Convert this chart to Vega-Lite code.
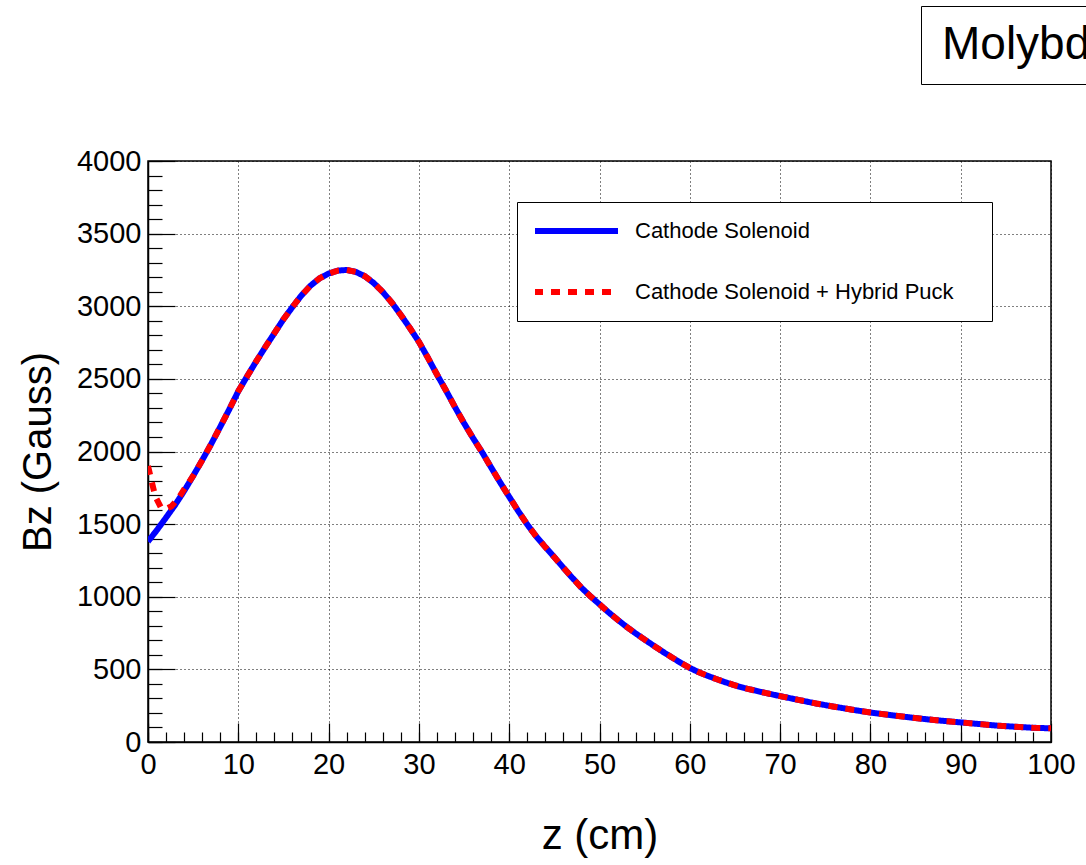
{
  "$schema": "https://vega.github.io/schema/vega-lite/v6.json",
  "width": 903,
  "height": 581,
  "autosize": {"type": "none"},
  "padding": {"left": 148, "top": 161, "right": 35, "bottom": 123},
  "background": "white",
  "config": {
    "view": {"stroke": "black", "strokeWidth": 1.5},
    "font": "Liberation Sans"
  },
  "datasets": {
    "curves": [
      {"z": 0, "B": 1380, "series": "Cathode Solenoid"},
      {"z": 1, "B": 1460, "series": "Cathode Solenoid"},
      {"z": 2, "B": 1545, "series": "Cathode Solenoid"},
      {"z": 3, "B": 1632, "series": "Cathode Solenoid"},
      {"z": 4, "B": 1728, "series": "Cathode Solenoid"},
      {"z": 5, "B": 1832, "series": "Cathode Solenoid"},
      {"z": 6, "B": 1940, "series": "Cathode Solenoid"},
      {"z": 7, "B": 2052, "series": "Cathode Solenoid"},
      {"z": 8, "B": 2170, "series": "Cathode Solenoid"},
      {"z": 9, "B": 2290, "series": "Cathode Solenoid"},
      {"z": 10, "B": 2415, "series": "Cathode Solenoid"},
      {"z": 11, "B": 2520, "series": "Cathode Solenoid"},
      {"z": 12, "B": 2622, "series": "Cathode Solenoid"},
      {"z": 13, "B": 2720, "series": "Cathode Solenoid"},
      {"z": 14, "B": 2815, "series": "Cathode Solenoid"},
      {"z": 15, "B": 2910, "series": "Cathode Solenoid"},
      {"z": 16, "B": 2995, "series": "Cathode Solenoid"},
      {"z": 17, "B": 3075, "series": "Cathode Solenoid"},
      {"z": 18, "B": 3142, "series": "Cathode Solenoid"},
      {"z": 19, "B": 3192, "series": "Cathode Solenoid"},
      {"z": 20, "B": 3225, "series": "Cathode Solenoid"},
      {"z": 21, "B": 3245, "series": "Cathode Solenoid"},
      {"z": 22, "B": 3250, "series": "Cathode Solenoid"},
      {"z": 23, "B": 3237, "series": "Cathode Solenoid"},
      {"z": 24, "B": 3207, "series": "Cathode Solenoid"},
      {"z": 25, "B": 3160, "series": "Cathode Solenoid"},
      {"z": 26, "B": 3098, "series": "Cathode Solenoid"},
      {"z": 27, "B": 3025, "series": "Cathode Solenoid"},
      {"z": 28, "B": 2940, "series": "Cathode Solenoid"},
      {"z": 29, "B": 2850, "series": "Cathode Solenoid"},
      {"z": 30, "B": 2755, "series": "Cathode Solenoid"},
      {"z": 31, "B": 2645, "series": "Cathode Solenoid"},
      {"z": 32, "B": 2530, "series": "Cathode Solenoid"},
      {"z": 33, "B": 2420, "series": "Cathode Solenoid"},
      {"z": 34, "B": 2305, "series": "Cathode Solenoid"},
      {"z": 35, "B": 2195, "series": "Cathode Solenoid"},
      {"z": 36, "B": 2092, "series": "Cathode Solenoid"},
      {"z": 37, "B": 1995, "series": "Cathode Solenoid"},
      {"z": 38, "B": 1890, "series": "Cathode Solenoid"},
      {"z": 39, "B": 1787, "series": "Cathode Solenoid"},
      {"z": 40, "B": 1688, "series": "Cathode Solenoid"},
      {"z": 41, "B": 1590, "series": "Cathode Solenoid"},
      {"z": 42, "B": 1497, "series": "Cathode Solenoid"},
      {"z": 43, "B": 1415, "series": "Cathode Solenoid"},
      {"z": 44, "B": 1342, "series": "Cathode Solenoid"},
      {"z": 45, "B": 1272, "series": "Cathode Solenoid"},
      {"z": 46, "B": 1200, "series": "Cathode Solenoid"},
      {"z": 47, "B": 1130, "series": "Cathode Solenoid"},
      {"z": 48, "B": 1062, "series": "Cathode Solenoid"},
      {"z": 49, "B": 1003, "series": "Cathode Solenoid"},
      {"z": 50, "B": 948, "series": "Cathode Solenoid"},
      {"z": 51, "B": 893, "series": "Cathode Solenoid"},
      {"z": 52, "B": 842, "series": "Cathode Solenoid"},
      {"z": 53, "B": 793, "series": "Cathode Solenoid"},
      {"z": 54, "B": 748, "series": "Cathode Solenoid"},
      {"z": 55, "B": 705, "series": "Cathode Solenoid"},
      {"z": 56, "B": 663, "series": "Cathode Solenoid"},
      {"z": 57, "B": 622, "series": "Cathode Solenoid"},
      {"z": 58, "B": 583, "series": "Cathode Solenoid"},
      {"z": 59, "B": 545, "series": "Cathode Solenoid"},
      {"z": 60, "B": 510, "series": "Cathode Solenoid"},
      {"z": 61, "B": 480, "series": "Cathode Solenoid"},
      {"z": 62, "B": 455, "series": "Cathode Solenoid"},
      {"z": 63, "B": 432, "series": "Cathode Solenoid"},
      {"z": 64, "B": 410, "series": "Cathode Solenoid"},
      {"z": 65, "B": 390, "series": "Cathode Solenoid"},
      {"z": 66, "B": 372, "series": "Cathode Solenoid"},
      {"z": 68, "B": 343, "series": "Cathode Solenoid"},
      {"z": 70, "B": 316, "series": "Cathode Solenoid"},
      {"z": 72, "B": 290, "series": "Cathode Solenoid"},
      {"z": 74, "B": 265, "series": "Cathode Solenoid"},
      {"z": 76, "B": 243, "series": "Cathode Solenoid"},
      {"z": 78, "B": 222, "series": "Cathode Solenoid"},
      {"z": 80, "B": 203, "series": "Cathode Solenoid"},
      {"z": 82, "B": 187, "series": "Cathode Solenoid"},
      {"z": 84, "B": 172, "series": "Cathode Solenoid"},
      {"z": 86, "B": 158, "series": "Cathode Solenoid"},
      {"z": 88, "B": 146, "series": "Cathode Solenoid"},
      {"z": 90, "B": 135, "series": "Cathode Solenoid"},
      {"z": 92, "B": 124, "series": "Cathode Solenoid"},
      {"z": 94, "B": 113, "series": "Cathode Solenoid"},
      {"z": 96, "B": 105, "series": "Cathode Solenoid"},
      {"z": 98, "B": 98, "series": "Cathode Solenoid"},
      {"z": 100, "B": 94, "series": "Cathode Solenoid"},
      {"z": 0, "B": 1900, "series": "Cathode Solenoid + Hybrid Puck"},
      {"z": 0.4, "B": 1795, "series": "Cathode Solenoid + Hybrid Puck"},
      {"z": 0.8, "B": 1692, "series": "Cathode Solenoid + Hybrid Puck"},
      {"z": 1.4, "B": 1618, "series": "Cathode Solenoid + Hybrid Puck"},
      {"z": 2, "B": 1605, "series": "Cathode Solenoid + Hybrid Puck"},
      {"z": 2.6, "B": 1623, "series": "Cathode Solenoid + Hybrid Puck"},
      {"z": 3.4, "B": 1680, "series": "Cathode Solenoid + Hybrid Puck"},
      {"z": 4, "B": 1740, "series": "Cathode Solenoid + Hybrid Puck"},
      {"z": 5, "B": 1832, "series": "Cathode Solenoid + Hybrid Puck"},
      {"z": 6, "B": 1940, "series": "Cathode Solenoid + Hybrid Puck"},
      {"z": 7, "B": 2052, "series": "Cathode Solenoid + Hybrid Puck"},
      {"z": 8, "B": 2170, "series": "Cathode Solenoid + Hybrid Puck"},
      {"z": 9, "B": 2290, "series": "Cathode Solenoid + Hybrid Puck"},
      {"z": 10, "B": 2415, "series": "Cathode Solenoid + Hybrid Puck"},
      {"z": 11, "B": 2520, "series": "Cathode Solenoid + Hybrid Puck"},
      {"z": 12, "B": 2622, "series": "Cathode Solenoid + Hybrid Puck"},
      {"z": 13, "B": 2720, "series": "Cathode Solenoid + Hybrid Puck"},
      {"z": 14, "B": 2815, "series": "Cathode Solenoid + Hybrid Puck"},
      {"z": 15, "B": 2910, "series": "Cathode Solenoid + Hybrid Puck"},
      {"z": 16, "B": 2995, "series": "Cathode Solenoid + Hybrid Puck"},
      {"z": 17, "B": 3075, "series": "Cathode Solenoid + Hybrid Puck"},
      {"z": 18, "B": 3142, "series": "Cathode Solenoid + Hybrid Puck"},
      {"z": 19, "B": 3192, "series": "Cathode Solenoid + Hybrid Puck"},
      {"z": 20, "B": 3225, "series": "Cathode Solenoid + Hybrid Puck"},
      {"z": 21, "B": 3245, "series": "Cathode Solenoid + Hybrid Puck"},
      {"z": 22, "B": 3250, "series": "Cathode Solenoid + Hybrid Puck"},
      {"z": 23, "B": 3237, "series": "Cathode Solenoid + Hybrid Puck"},
      {"z": 24, "B": 3207, "series": "Cathode Solenoid + Hybrid Puck"},
      {"z": 25, "B": 3160, "series": "Cathode Solenoid + Hybrid Puck"},
      {"z": 26, "B": 3098, "series": "Cathode Solenoid + Hybrid Puck"},
      {"z": 27, "B": 3025, "series": "Cathode Solenoid + Hybrid Puck"},
      {"z": 28, "B": 2940, "series": "Cathode Solenoid + Hybrid Puck"},
      {"z": 29, "B": 2850, "series": "Cathode Solenoid + Hybrid Puck"},
      {"z": 30, "B": 2755, "series": "Cathode Solenoid + Hybrid Puck"},
      {"z": 31, "B": 2645, "series": "Cathode Solenoid + Hybrid Puck"},
      {"z": 32, "B": 2530, "series": "Cathode Solenoid + Hybrid Puck"},
      {"z": 33, "B": 2420, "series": "Cathode Solenoid + Hybrid Puck"},
      {"z": 34, "B": 2305, "series": "Cathode Solenoid + Hybrid Puck"},
      {"z": 35, "B": 2195, "series": "Cathode Solenoid + Hybrid Puck"},
      {"z": 36, "B": 2092, "series": "Cathode Solenoid + Hybrid Puck"},
      {"z": 37, "B": 1995, "series": "Cathode Solenoid + Hybrid Puck"},
      {"z": 38, "B": 1890, "series": "Cathode Solenoid + Hybrid Puck"},
      {"z": 39, "B": 1787, "series": "Cathode Solenoid + Hybrid Puck"},
      {"z": 40, "B": 1688, "series": "Cathode Solenoid + Hybrid Puck"},
      {"z": 41, "B": 1590, "series": "Cathode Solenoid + Hybrid Puck"},
      {"z": 42, "B": 1497, "series": "Cathode Solenoid + Hybrid Puck"},
      {"z": 43, "B": 1415, "series": "Cathode Solenoid + Hybrid Puck"},
      {"z": 44, "B": 1342, "series": "Cathode Solenoid + Hybrid Puck"},
      {"z": 45, "B": 1272, "series": "Cathode Solenoid + Hybrid Puck"},
      {"z": 46, "B": 1200, "series": "Cathode Solenoid + Hybrid Puck"},
      {"z": 47, "B": 1130, "series": "Cathode Solenoid + Hybrid Puck"},
      {"z": 48, "B": 1062, "series": "Cathode Solenoid + Hybrid Puck"},
      {"z": 49, "B": 1003, "series": "Cathode Solenoid + Hybrid Puck"},
      {"z": 50, "B": 948, "series": "Cathode Solenoid + Hybrid Puck"},
      {"z": 51, "B": 893, "series": "Cathode Solenoid + Hybrid Puck"},
      {"z": 52, "B": 842, "series": "Cathode Solenoid + Hybrid Puck"},
      {"z": 53, "B": 793, "series": "Cathode Solenoid + Hybrid Puck"},
      {"z": 54, "B": 748, "series": "Cathode Solenoid + Hybrid Puck"},
      {"z": 55, "B": 705, "series": "Cathode Solenoid + Hybrid Puck"},
      {"z": 56, "B": 663, "series": "Cathode Solenoid + Hybrid Puck"},
      {"z": 57, "B": 622, "series": "Cathode Solenoid + Hybrid Puck"},
      {"z": 58, "B": 583, "series": "Cathode Solenoid + Hybrid Puck"},
      {"z": 59, "B": 545, "series": "Cathode Solenoid + Hybrid Puck"},
      {"z": 60, "B": 510, "series": "Cathode Solenoid + Hybrid Puck"},
      {"z": 61, "B": 480, "series": "Cathode Solenoid + Hybrid Puck"},
      {"z": 62, "B": 455, "series": "Cathode Solenoid + Hybrid Puck"},
      {"z": 63, "B": 432, "series": "Cathode Solenoid + Hybrid Puck"},
      {"z": 64, "B": 410, "series": "Cathode Solenoid + Hybrid Puck"},
      {"z": 65, "B": 390, "series": "Cathode Solenoid + Hybrid Puck"},
      {"z": 66, "B": 372, "series": "Cathode Solenoid + Hybrid Puck"},
      {"z": 68, "B": 343, "series": "Cathode Solenoid + Hybrid Puck"},
      {"z": 70, "B": 316, "series": "Cathode Solenoid + Hybrid Puck"},
      {"z": 72, "B": 290, "series": "Cathode Solenoid + Hybrid Puck"},
      {"z": 74, "B": 265, "series": "Cathode Solenoid + Hybrid Puck"},
      {"z": 76, "B": 243, "series": "Cathode Solenoid + Hybrid Puck"},
      {"z": 78, "B": 222, "series": "Cathode Solenoid + Hybrid Puck"},
      {"z": 80, "B": 203, "series": "Cathode Solenoid + Hybrid Puck"},
      {"z": 82, "B": 187, "series": "Cathode Solenoid + Hybrid Puck"},
      {"z": 84, "B": 172, "series": "Cathode Solenoid + Hybrid Puck"},
      {"z": 86, "B": 158, "series": "Cathode Solenoid + Hybrid Puck"},
      {"z": 88, "B": 146, "series": "Cathode Solenoid + Hybrid Puck"},
      {"z": 90, "B": 135, "series": "Cathode Solenoid + Hybrid Puck"},
      {"z": 92, "B": 124, "series": "Cathode Solenoid + Hybrid Puck"},
      {"z": 94, "B": 113, "series": "Cathode Solenoid + Hybrid Puck"},
      {"z": 96, "B": 105, "series": "Cathode Solenoid + Hybrid Puck"},
      {"z": 98, "B": 98, "series": "Cathode Solenoid + Hybrid Puck"},
      {"z": 100, "B": 94, "series": "Cathode Solenoid + Hybrid Puck"}
    ],
    "titlebox": [{"t": "Molybdenum Puck"}]
  },
  "layer": [
    {
      "data": {"name": "curves"},
      "transform": [{"filter": "datum.series === 'Cathode Solenoid'"}],
      "mark": {"type": "line", "strokeWidth": 6, "strokeCap": "butt", "clip": true},
      "encoding": {
        "x": {
          "field": "z", "type": "quantitative",
          "scale": {"domain": [0, 100], "nice": false, "zero": false},
          "axis": {
            "orient": "bottom",
            "values": [0, 10, 20, 30, 40, 50, 60, 70, 80, 90, 100],
            "format": "d",
            "tickSize": -19, "tickWidth": 1.2, "tickColor": "black",
            "domainColor": "black", "domainWidth": 1.5,
            "labelFontSize": 29, "labelFont": "Liberation Sans", "labelColor": "black",
            "labelPadding": 27, "labelFlush": false, "labelOverlap": false,
            "grid": true, "gridColor": "black", "gridDash": [1, 3], "gridWidth": 1, "gridOpacity": 1,
            "title": "z (cm)", "titleFontSize": 42, "titleFont": "Liberation Sans",
            "titleFontWeight": "normal", "titleColor": "black", "titlePadding": 36
          }
        },
        "y": {
          "field": "B", "type": "quantitative",
          "scale": {"domain": [0, 4000], "nice": false},
          "axis": {
            "orient": "left",
            "values": [0, 500, 1000, 1500, 2000, 2500, 3000, 3500, 4000],
            "format": "d",
            "tickSize": -27, "tickWidth": 1.2, "tickColor": "black",
            "domainColor": "black", "domainWidth": 1.5,
            "labelFontSize": 29, "labelFont": "Liberation Sans", "labelColor": "black",
            "labelPadding": 34, "labelFlush": false, "labelOverlap": false,
            "grid": true, "gridColor": "black", "gridDash": [1, 3], "gridWidth": 1, "gridOpacity": 1,
            "title": "Bz (Gauss)", "titleFontSize": 40, "titleFont": "Liberation Sans",
            "titleFontWeight": "normal", "titleColor": "black", "titlePadding": 18
          }
        },
        "color": {
          "field": "series", "type": "nominal",
          "scale": {"domain": ["Cathode Solenoid", "Cathode Solenoid + Hybrid Puck"], "range": ["#0000ff", "#ff0000"]},
          "legend": {
            "orient": "none", "legendX": 369, "legendY": 41,
            "title": "\u00a0", "titleOrient": "right", "titleFontSize": 20, "titlePadding": 20,
            "padding": 18, "strokeColor": "black", "fillColor": "white",
            "symbolType": "stroke", "symbolSize": 7056, "symbolStrokeWidth": 6, "symbolOffset": -4,
            "clipHeight": 22, "rowPadding": 39, "labelOffset": 14,
            "labelFontSize": 22, "labelFont": "Liberation Sans", "labelColor": "black", "labelLimit": 600
          }
        },
        "strokeDash": {
          "field": "series", "type": "nominal",
          "scale": {"domain": ["Cathode Solenoid", "Cathode Solenoid + Hybrid Puck"], "range": [[1, 0], [9, 8]]},
          "legend": {
            "orient": "none", "legendX": 369, "legendY": 41,
            "title": "\u00a0", "titleOrient": "right", "titleFontSize": 20, "titlePadding": 20,
            "padding": 18, "strokeColor": "black", "fillColor": "white",
            "symbolType": "stroke", "symbolSize": 7056, "symbolStrokeWidth": 6, "symbolOffset": -4,
            "clipHeight": 22, "rowPadding": 39, "labelOffset": 14,
            "labelFontSize": 22, "labelFont": "Liberation Sans", "labelColor": "black", "labelLimit": 600
          }
        }
      }
    },
    {
      "data": {"name": "curves"},
      "transform": [{"filter": "datum.series === 'Cathode Solenoid + Hybrid Puck'"}],
      "mark": {"type": "line", "strokeWidth": 6, "strokeCap": "butt", "clip": true},
      "encoding": {
        "x": {
          "field": "z", "type": "quantitative",
          "axis": {
            "orient": "bottom",
            "values": [0, 2, 4, 6, 8, 10, 12, 14, 16, 18, 20, 22, 24, 26, 28, 30, 32, 34, 36, 38, 40, 42, 44, 46, 48, 50, 52, 54, 56, 58, 60, 62, 64, 66, 68, 70, 72, 74, 76, 78, 80, 82, 84, 86, 88, 90, 92, 94, 96, 98, 100],
            "tickSize": -10, "tickWidth": 1.2, "tickColor": "black",
            "domain": false, "labels": false, "grid": false, "title": null
          }
        },
        "y": {
          "field": "B", "type": "quantitative",
          "axis": {
            "orient": "left",
            "values": [0, 100, 200, 300, 400, 500, 600, 700, 800, 900, 1000, 1100, 1200, 1300, 1400, 1500, 1600, 1700, 1800, 1900, 2000, 2100, 2200, 2300, 2400, 2500, 2600, 2700, 2800, 2900, 3000, 3100, 3200, 3300, 3400, 3500, 3600, 3700, 3800, 3900, 4000],
            "tickSize": -14, "tickWidth": 1.2, "tickColor": "black",
            "domain": false, "labels": false, "grid": false, "title": null
          }
        },
        "color": {"field": "series", "type": "nominal"},
        "strokeDash": {"field": "series", "type": "nominal"}
      }
    },
    {
      "data": {"name": "titlebox"},
      "mark": {"type": "point", "opacity": 0},
      "encoding": {
        "shape": {
          "field": "t", "type": "nominal",
          "legend": {
            "orient": "none", "legendX": 773, "legendY": -155, "title": null,
            "padding": 16, "strokeColor": "black", "fillColor": "white",
            "symbolSize": 1, "symbolOpacity": 0, "symbolStrokeWidth": 0,
            "clipHeight": 46, "labelOffset": -41,
            "labelFontSize": 46, "labelFont": "Liberation Sans", "labelColor": "black", "labelLimit": 2000
          }
        }
      }
    }
  ],
  "resolve": {"axis": {"x": "independent", "y": "independent"}}
}
